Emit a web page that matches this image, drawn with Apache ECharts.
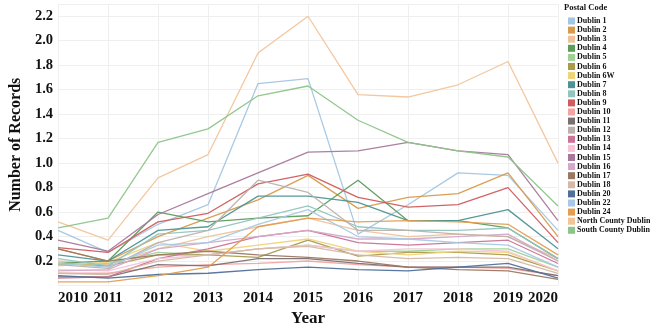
<!DOCTYPE html>
<html>
<head>
<meta charset="utf-8">
<script src="https://cdn.jsdelivr.net/npm/echarts@6/dist/echarts.min.js"></script>
<style>html,body{margin:0;padding:0;background:#fff}#c{width:650px;height:335px}</style>
</head>
<body>
<div id="c"></div>
<script>
var years = ['2010','2011','2012','2013','2014','2015','2016','2017','2018','2019','2020'];
var names = ['Dublin 1','Dublin 2','Dublin 3','Dublin 4','Dublin 5','Dublin 6','Dublin 6W','Dublin 7','Dublin 8','Dublin 9','Dublin 10','Dublin 11','Dublin 12','Dublin 13','Dublin 14','Dublin 15','Dublin 16','Dublin 17','Dublin 18','Dublin 20','Dublin 22','Dublin 24','North County Dublin','South County Dublin'];
var colors = ['#a3c6e2','#d89a4c','#efc29a','#5e9c5a','#9fd294','#a99a4c','#f0d27a','#4f9494','#93c4c0','#cf5c5e','#f4a3a3','#7a706f','#bbb2ae','#cc7396','#f6c4d6','#a8799c','#d2a9c8','#9c7862','#d5b8a8','#50709a','#a8c9e4','#e39e4f','#f2c49a','#8dc58a'];

var d1   = [0.45, 0.27, 0.50, 0.66, 1.65, 1.69, 0.42, 0.66, 0.92, 0.90, 0.45];
var d2   = [0.30, 0.20, 0.40, 0.55, 0.70, 0.90, 0.63, 0.72, 0.75, 0.92, 0.40];
var d3   = [0.20, 0.17, 0.30, 0.40, 0.48, 0.55, 0.45, 0.40, 0.42, 0.40, 0.22];
var d4   = [0.18, 0.20, 0.60, 0.52, 0.55, 0.57, 0.86, 0.53, 0.53, 0.47, 0.22];
var d5   = [0.17, 0.18, 0.27, 0.25, 0.30, 0.33, 0.28, 0.28, 0.30, 0.30, 0.15];
var d6   = [0.18, 0.16, 0.25, 0.25, 0.23, 0.37, 0.24, 0.27, 0.27, 0.25, 0.12];
var d6w  = [0.16, 0.19, 0.35, 0.28, 0.33, 0.38, 0.28, 0.25, 0.28, 0.27, 0.12];
var d7   = [0.25, 0.20, 0.45, 0.48, 0.73, 0.73, 0.68, 0.53, 0.53, 0.62, 0.30];
var d8   = [0.22, 0.16, 0.42, 0.45, 0.55, 0.65, 0.48, 0.45, 0.45, 0.47, 0.22];
var d9   = [0.31, 0.27, 0.52, 0.59, 0.83, 0.91, 0.72, 0.64, 0.66, 0.80, 0.35];
var d10  = [0.10, 0.10, 0.15, 0.17, 0.18, 0.20, 0.17, 0.15, 0.15, 0.14, 0.08];
var d11  = [0.07, 0.07, 0.17, 0.16, 0.22, 0.22, 0.18, 0.15, 0.15, 0.15, 0.08];
var d12  = [0.17, 0.14, 0.35, 0.45, 0.86, 0.76, 0.45, 0.45, 0.42, 0.40, 0.20];
var d13  = [0.06, 0.07, 0.22, 0.30, 0.40, 0.45, 0.35, 0.33, 0.35, 0.37, 0.18];
var d14  = [0.13, 0.12, 0.22, 0.25, 0.30, 0.33, 0.28, 0.30, 0.30, 0.28, 0.12];
var d15  = [0.37, 0.28, 0.58, 0.75, 0.92, 1.09, 1.10, 1.17, 1.10, 1.07, 0.53];
var d16  = [0.12, 0.13, 0.30, 0.35, 0.40, 0.45, 0.38, 0.38, 0.40, 0.42, 0.20];
var d17  = [0.30, 0.20, 0.25, 0.28, 0.25, 0.23, 0.20, 0.15, 0.13, 0.12, 0.05];
var d18  = [0.10, 0.09, 0.20, 0.25, 0.30, 0.32, 0.25, 0.22, 0.23, 0.22, 0.10];
var d20  = [0.08, 0.06, 0.09, 0.10, 0.13, 0.15, 0.13, 0.12, 0.15, 0.18, 0.06];
var d22  = [0.18, 0.15, 0.33, 0.35, 0.50, 0.62, 0.40, 0.38, 0.35, 0.33, 0.15];
var d24  = [0.03, 0.03, 0.08, 0.15, 0.48, 0.55, 0.52, 0.53, 0.52, 0.50, 0.25];
var ncd  = [0.52, 0.37, 0.88, 1.07, 1.90, 2.20, 1.56, 1.54, 1.64, 1.83, 1.00];
var scd  = [0.47, 0.55, 1.17, 1.28, 1.55, 1.63, 1.35, 1.17, 1.10, 1.05, 0.65];

var seriesData = [d1,d2,d3,d4,d5,d6,d6w,d7,d8,d9,d10,d11,d12,d13,d14,d15,d16,d17,d18,d20,d22,d24,ncd,scd];
var yTickLabels = ['0.2','0.4','0.6','0.8','1.0','1.2','1.4','1.6','1.8','2.0','2.2'];

var FONT = '"Liberation Serif", "Times New Roman", serif';
var chart = echarts.init(document.getElementById('c'));
var series = names.map(function(n, i){
  return {
    name: n, type: 'line', data: seriesData[i], symbol: 'none', smooth: false,
    lineStyle: { width: 1.3, color: colors[i], opacity: 0.95 },
    itemStyle: { color: colors[i] }
  };
});
chart.setOption({
  animation: false,
  color: colors,
  grid: { left: 45, right: 92, top: 4, bottom: 49.5 },
  xAxis: {
    type: 'category', data: years, boundaryGap: false,
    name: 'Year', nameLocation: 'middle', nameGap: 25,
    nameTextStyle: { fontFamily: FONT, fontWeight: 'bold', fontSize: 17, color: '#111' },
    axisLine: { show: false }, axisTick: { show: false },
    axisLabel: { fontFamily: FONT, fontWeight: 'bold', fontSize: 15, color: '#111', margin: 5,
      alignMinLabel: 'left', alignMaxLabel: 'right' },
    splitLine: { show: true, lineStyle: { color: '#efefef', width: 1 } }
  },
  yAxis: {
    type: 'value', min: 0, max: 2.3, interval: 0.2,
    name: 'Number of Records', nameLocation: 'middle', nameGap: 30,
    nameTextStyle: { fontFamily: FONT, fontWeight: 'bold', fontSize: 16, color: '#111' },
    axisLine: { show: false }, axisTick: { show: false },
    axisLabel: { fontFamily: FONT, fontWeight: 'bold', fontSize: 14.5, color: '#111', margin: 5,
      showMinLabel: false, showMaxLabel: false,
      formatter: function(v){ var s = v.toFixed(1); return yTickLabels.indexOf(s) >= 0 ? s : ''; } },
    splitLine: { show: true, lineStyle: { color: '#efefef', width: 1 } }
  },
  legend: {
    orient: 'vertical', left: 563, top: 12,
    itemWidth: 7, itemHeight: 7, itemGap: 1.1, icon: 'rect',
    textStyle: { fontFamily: FONT, fontWeight: 'bold', fontSize: 8, color: '#111', padding: [0,0,0,-3] },
    data: names
  },
  graphic: [{
    type: 'text', left: 564, top: 3,
    style: { text: 'Postal Code', font: 'bold 8.5px ' + FONT, fill: '#111' }
  }],
  series: series
});
</script>
</body>
</html>
